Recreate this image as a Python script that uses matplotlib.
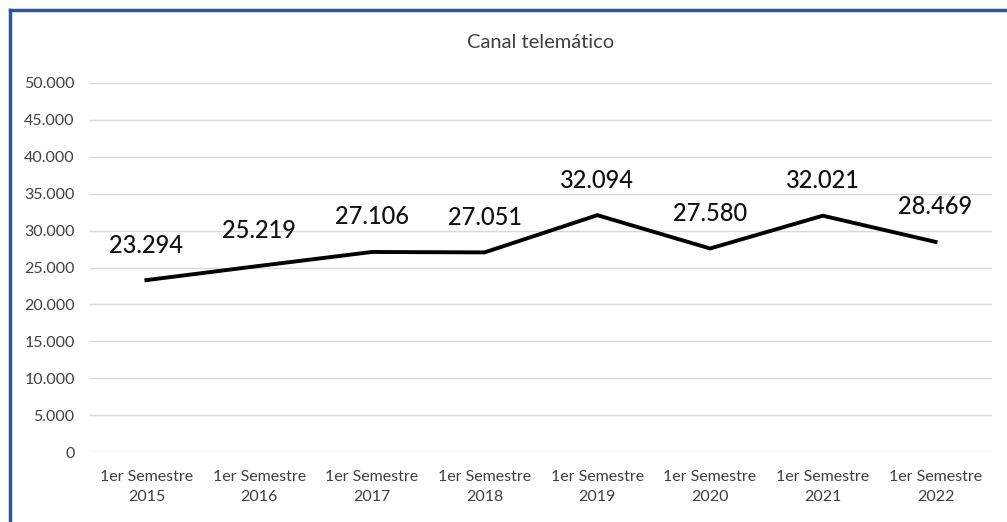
import matplotlib.pyplot as plt
from matplotlib.lines import Line2D

labels = ['1er Semestre\n2015', '1er Semestre\n2016', '1er Semestre\n2017', '1er Semestre\n2018',
          '1er Semestre\n2019', '1er Semestre\n2020', '1er Semestre\n2021', '1er Semestre\n2022']
values = [23294, 25219, 27106, 27051, 32094, 27580, 32021, 28469]
value_text = ['23.294', '25.219', '27.106', '27.051', '32.094', '27.580', '32.021', '28.469']
yticks = [0, 5000, 10000, 15000, 20000, 25000, 30000, 35000, 40000, 45000, 50000]
ytick_text = ['0', '5.000', '10.000', '15.000', '20.000', '25.000', '30.000',
              '35.000', '40.000', '45.000', '50.000']

plt.rcParams['font.family'] = ['Lato', 'DejaVu Sans']

fig = plt.figure(figsize=(10.07, 5.22), dpi=100)
ax = fig.add_axes([0.0894, 0.134, 0.8956, 0.707])

x = list(range(len(values)))
ax.plot(x, values, color='black', linewidth=2.8, solid_joinstyle='miter')

for i in x:
    ax.annotate(value_text[i], (i, values[i]), xytext=(0, 17), textcoords='offset points',
                ha='center', va='bottom', fontsize=17, color='#111111', fontweight='medium')

ax.set_xlim(-0.5, 7.5)
ax.set_ylim(0, 50000)
ax.set_yticks(yticks)
ax.set_yticklabels(ytick_text)
ax.set_xticks(x)
ax.set_xticklabels(labels, linespacing=1.5)
ax.tick_params(axis='both', length=0, labelsize=11.5, colors='#404040')
ax.tick_params(axis='y', pad=11)
ax.tick_params(axis='x', pad=13)
ax.grid(axis='y', color='#d9d9d9', linewidth=1)
ax.set_axisbelow(True)
for s in ax.spines.values():
    s.set_visible(False)

fig.text(0.537, 0.918, 'Canal telemático', ha='center', va='center', fontsize=14.5, color='#404040')

# blue frame on top and left
fig.add_artist(Line2D([0.0099, 1.0], [0.981, 0.981], color='#2f5597', linewidth=2.5, transform=fig.transFigure))
fig.add_artist(Line2D([0.0099, 0.0099], [0.0, 0.981], color='#2f5597', linewidth=2.5, transform=fig.transFigure))

plt.savefig('out.png')
